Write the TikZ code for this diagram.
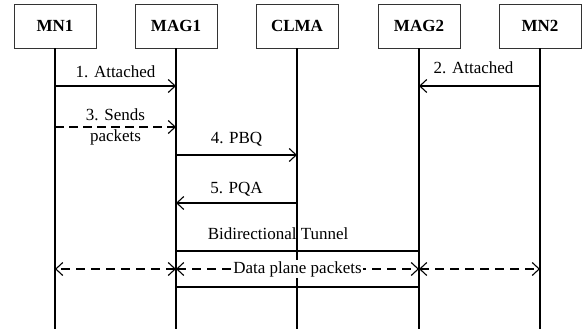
\documentclass[tikz,border=0pt]{standalone}
\usepackage{fontspec}
\setmainfont{Liberation Serif}
\usetikzlibrary{arrows.meta,positioning,calc}
\newcommand{\seqfont}{\fontsize{17}{20}\selectfont}
\tikzset{
  >={Straight Barb[length=7pt,width=13pt]},
  ent/.style  ={rectangle, draw=black!80, line width=0.9pt,
                minimum width=82pt, minimum height=44pt, inner sep=2pt,
                font=\seqfont\bfseries},
  life/.style ={draw, line width=1.1pt},
  msg/.style  ={->, draw, line width=1.1pt},
  dmsg/.style ={->, draw, line width=1.1pt, dash pattern=on 9pt off 5pt},
  both/.style ={<->, draw, line width=1.1pt, dash pattern=on 9pt off 6pt},
  tun/.style  ={draw, line width=1.1pt},
  lbl/.style  ={font=\seqfont, inner sep=2pt, align=center},
}
\begin{document}
\begin{tikzpicture}[x=1pt,y=-1pt]
\useasboundingbox (0,0) rectangle (582,329);
% entities
\node[ent] (mn1)  at (55,26)  {MN1};
\node[ent] (mag1) at (176,26) {MAG1};
\node[ent] (clma) at (297,26) {CLMA};
\node[ent] (mag2) at (419,26) {MAG2};
\node[ent] (mn2)  at (540,26) {MN2};
% message rows
\coordinate (bot) at (0,329);
\coordinate (r1)  at (0,86);
\coordinate (r3)  at (0,127);
\coordinate (r4)  at (0,155);
\coordinate (r5)  at (0,203);
\coordinate (tt)  at (0,251);
\coordinate (rd)  at (0,269);
\coordinate (tb)  at (0,287);
% lifelines
\foreach \n in {mn1,mag1,clma,mag2,mn2}
  \draw[life] (\n) -- (\n |- bot);
\draw[msg]  (mn1 |- r1) -- node[lbl,above=6pt] {1. Attached} (mag1 |- r1);
\draw[msg]  (mn2 |- r1) -- node[lbl,above=10pt,xshift=-6pt] {2. Attached} (mag2 |- r1);
\draw[dmsg] (mn1 |- r3) -- node[lbl] {3. Sends\\[1pt]packets} (mag1 |- r3);
\draw[msg]  (mag1 |- r4) -- node[lbl,above=6pt] {4. PBQ} (clma |- r4);
\draw[msg]  (clma |- r5) -- node[lbl,above=4pt] {5. PQA} (mag1 |- r5);
% tunnel
\draw[tun]  (mag1 |- tt) -- node[lbl,above=9pt,pos=0.42] {Bidirectional Tunnel} (mag2 |- tt);
\draw[tun]  (mag1 |- tb) -- (mag2 |- tb);
\draw[both] (mag1 |- rd) -- (mn1 |- rd);
\draw[both] (mag1 |- rd) -- node[lbl,fill=white,inner sep=1pt] {Data plane packets} (mag2 |- rd);
\draw[both] (mag2 |- rd) -- (mn2 |- rd);
\end{tikzpicture}
\end{document}
